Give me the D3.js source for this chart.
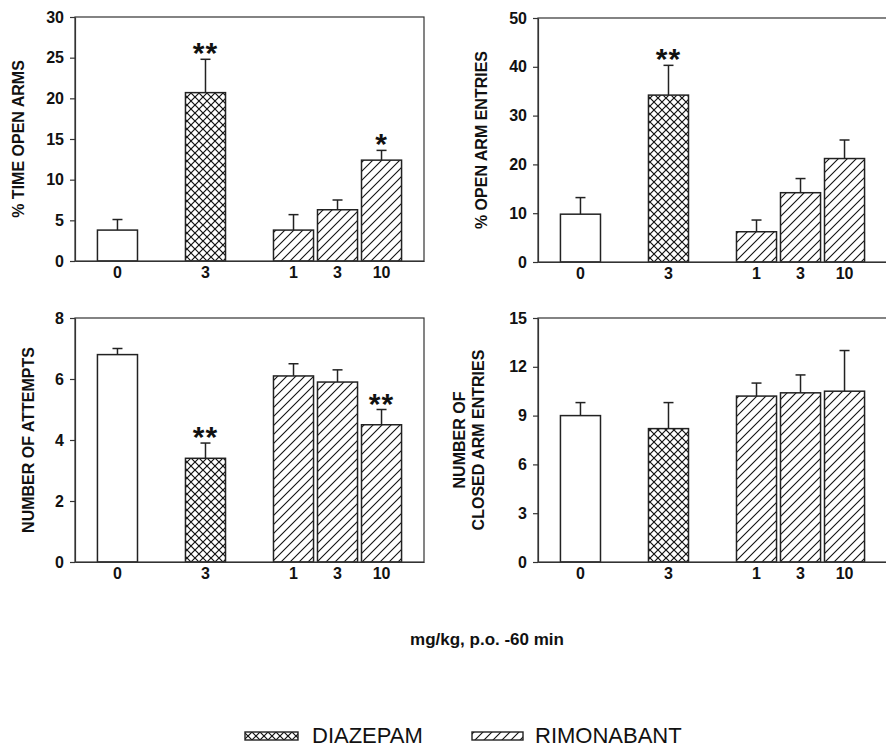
<!DOCTYPE html>
<html>
<head>
<meta charset="utf-8">
<script src="https://cdn.jsdelivr.net/npm/d3@7"></script>
<style>
  body { margin: 0; background: #fff; }
  svg { font-family: "Liberation Sans", Arial, sans-serif; }
  .tick text { font-weight: bold; font-size: 16px; fill: #111; }
</style>
</head>
<body>
<div id="chart"></div>
<script>
// Data
const doses = ["0", "3", "1", "3", "10"];
const treatments = ["vehicle", "diazepam", "rimonabant", "rimonabant", "rimonabant"];

const timeOpenMean = [3.8, 20.7, 3.8, 6.3, 12.4];
const timeOpenSem = [1.3, 4.1, 1.9, 1.2, 1.2];
const timeOpenSig = ["", "**", "", "", "*"];

const openEntriesMean = [9.8, 34.2, 6.2, 14.2, 21.2];
const openEntriesSem = [3.4, 6.1, 2.4, 2.9, 3.8];
const openEntriesSig = ["", "**", "", "", ""];

const attemptsMean = [6.8, 3.4, 6.1, 5.9, 4.5];
const attemptsSem = [0.2, 0.5, 0.4, 0.4, 0.5];
const attemptsSig = ["", "**", "", "", "**"];

const closedEntriesMean = [9.0, 8.2, 10.2, 10.4, 10.5];
const closedEntriesSem = [0.8, 1.6, 0.8, 1.1, 2.5];
const closedEntriesSig = ["", "", "", "", ""];

const timeOpenTicks = [0, 5, 10, 15, 20, 25, 30];
const openEntriesTicks = [0, 10, 20, 30, 40, 50];
const attemptsTicks = [0, 2, 4, 6, 8];
const closedEntriesTicks = [0, 3, 6, 9, 12, 15];

const xTitle = "mg/kg, p.o. -60 min";
const legendNames = ["DIAZEPAM", "RIMONABANT"];

// Dimensions
const W = 886, H = 747;
const plotW = 349, plotH = 244;

const panels = [
  {left: 75, top: 17, mean: timeOpenMean, sem: timeOpenSem, sig: timeOpenSig, ticks: timeOpenTicks, title: ["% TIME OPEN ARMS"], titleX: 18},
  {left: 538, top: 18, mean: openEntriesMean, sem: openEntriesSem, sig: openEntriesSig, ticks: openEntriesTicks, title: ["% OPEN ARM ENTRIES"], titleX: 481},
  {left: 75, top: 318, mean: attemptsMean, sem: attemptsSem, sig: attemptsSig, ticks: attemptsTicks, title: ["NUMBER OF ATTEMPTS"], titleX: 28},
  {left: 538, top: 318, mean: closedEntriesMean, sem: closedEntriesSem, sig: closedEntriesSig, ticks: closedEntriesTicks, title: ["NUMBER OF", "CLOSED ARM ENTRIES"], titleX: 470}
];

// slot index: an empty slot between treatment groups
const slots = [];
treatments.forEach((t, i) => {
  if (i === 0) slots.push(0);
  else slots.push(slots[i - 1] + (t === treatments[i - 1] ? 1 : 2));
});

const x = d3.scaleBand()
    .domain(d3.range(slots[slots.length - 1] + 1))
    .range([0, plotW])
    .paddingInner(0.09)
    .paddingOuter(0.51);

const fillFor = t => t === "diazepam" ? "url(#cross)" : t === "rimonabant" ? "url(#hatch)" : "#fff";

const svg = d3.select("#chart").append("svg")
    .attr("width", W)
    .attr("height", H);

const defs = svg.append("defs");

const cross = defs.append("pattern")
    .attr("id", "cross")
    .attr("patternUnits", "userSpaceOnUse")
    .attr("width", 8).attr("height", 8);
cross.append("rect").attr("width", 8).attr("height", 8).attr("fill", "#fff");
cross.append("path")
    .attr("d", "M0,0L8,8M8,0L0,8")
    .attr("stroke", "#111").attr("stroke-width", 1.2);

const hatch = defs.append("pattern")
    .attr("id", "hatch")
    .attr("patternUnits", "userSpaceOnUse")
    .attr("width", 9).attr("height", 9);
hatch.append("rect").attr("width", 9).attr("height", 9).attr("fill", "#fff");
hatch.append("path")
    .attr("d", "M0,9L9,0M-1,1L1,-1M8,10L10,8")
    .attr("stroke", "#111").attr("stroke-width", 1.1);

panels.forEach(p => {
  const y = d3.scaleLinear()
      .domain(d3.extent(p.ticks))
      .range([plotH, 0]);

  const g = svg.append("g")
      .attr("transform", `translate(${p.left},${p.top})`);

  const rows = p.mean.map((m, i) => ({m, s: p.sem[i], sig: p.sig[i], slot: slots[i], t: treatments[i]}));

  // error bars (upper half only)
  const err = g.selectAll(".err").data(rows).enter().append("g").attr("class", "err")
      .attr("stroke", "#222").attr("stroke-width", 1.5);
  err.append("line")
      .attr("x1", d => x(d.slot) + x.bandwidth() / 2)
      .attr("x2", d => x(d.slot) + x.bandwidth() / 2)
      .attr("y1", d => y(d.m))
      .attr("y2", d => y(d.m + d.s));
  err.append("line")
      .attr("x1", d => x(d.slot) + x.bandwidth() / 2 - 5)
      .attr("x2", d => x(d.slot) + x.bandwidth() / 2 + 5)
      .attr("y1", d => y(d.m + d.s))
      .attr("y2", d => y(d.m + d.s));

  g.selectAll(".bar").data(rows).enter().append("rect")
      .attr("class", "bar")
      .attr("x", d => x(d.slot))
      .attr("width", x.bandwidth())
      .attr("y", d => y(d.m))
      .attr("height", d => y(0) - y(d.m))
      .attr("fill", d => fillFor(d.t))
      .attr("stroke", "#222")
      .attr("stroke-width", 1.5);

  g.selectAll(".sig").data(rows.filter(d => d.sig)).enter().append("text")
      .attr("class", "sig")
      .attr("x", d => x(d.slot) + x.bandwidth() / 2)
      .attr("y", d => y(d.m + d.s) + 4)
      .attr("text-anchor", "middle")
      .style("font-size", "30px")
      .style("font-weight", "bold")
      .style("letter-spacing", "1px")
      .attr("fill", "#111")
      .text(d => d.sig);

  // frame
  g.append("rect")
      .attr("width", plotW).attr("height", plotH)
      .attr("fill", "none")
      .attr("stroke", "#333").attr("stroke-width", 1.2);

  const yAxis = g.append("g")
      .call(d3.axisLeft(y).tickValues(p.ticks).tickSize(5).tickSizeOuter(0).tickPadding(6));
  yAxis.select(".domain").attr("stroke", "#333").attr("stroke-width", 1.2);
  yAxis.selectAll(".tick line").attr("stroke", "#333").attr("stroke-width", 1.2);

  const xAxis = g.append("g")
      .attr("transform", `translate(0,${plotH})`)
      .call(d3.axisBottom(x).tickValues(slots).tickSize(0).tickPadding(6)
        .tickFormat(s => doses[slots.indexOf(s)]));
  xAxis.select(".domain").attr("stroke", "#333").attr("stroke-width", 1.2);

  // y title
  const t = svg.append("text")
      .attr("transform", `translate(${p.titleX},${p.top + plotH / 2}) rotate(-90)`)
      .attr("text-anchor", "middle")
      .style("font-size", "16px")
      .style("font-weight", "bold")
      .attr("fill", "#111");
  p.title.forEach((line, i) => {
    t.append("tspan")
        .attr("x", 0)
        .attr("dy", i === 0 ? (p.title.length > 1 ? "-0.3em" : "0.35em") : "1.2em")
        .text(line);
  });
});

svg.append("text")
    .attr("x", 487).attr("y", 645)
    .attr("text-anchor", "middle")
    .style("font-size", "17px")
    .style("font-weight", "bold")
    .attr("fill", "#111")
    .text(xTitle);

// Legend
const legend = svg.append("g");
const legendItems = [
  {name: legendNames[0], fill: "url(#cross)", sx: 245, sw: 53, tx: 312},
  {name: legendNames[1], fill: "url(#hatch)", sx: 472, sw: 51, tx: 535}
];
legendItems.forEach(d => {
  legend.append("rect")
      .attr("x", d.sx).attr("y", 732)
      .attr("width", d.sw).attr("height", 8)
      .attr("fill", d.fill)
      .attr("stroke", "#222").attr("stroke-width", 1.4);
  legend.append("text")
      .attr("x", d.tx).attr("y", 743)
      .style("font-size", "22px")
      .style("font-weight", "500")
      .attr("fill", "#111")
      .text(d.name);
});
</script>
</body>
</html>
